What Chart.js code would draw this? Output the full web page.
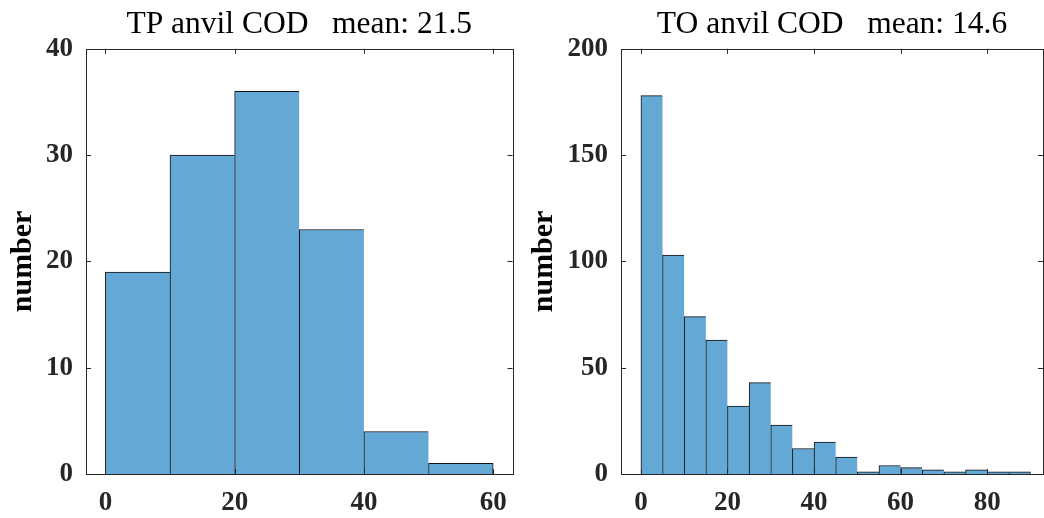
<!DOCTYPE html>
<html>
<head>
<meta charset="utf-8">
<script src="https://cdn.jsdelivr.net/npm/chart.js@4/dist/chart.umd.min.js"></script>
<style>
    html, body { margin: 0; padding: 0; background: #fff; }
    #wrap { position: relative; width: 1044px; height: 518px; overflow: hidden; }
    #tpChart { position: absolute; left: 0; top: 0; }
    #toChart { position: absolute; left: 520px; top: 0; }
</style>
</head>
<body>
<div id="wrap">
    <canvas id="tpChart" width="520" height="518"></canvas>
    <canvas id="toChart" width="524" height="518"></canvas>
</div>
<script>
// ================= Data =================
const tpBinCenters = [5, 15, 25, 35, 45, 55];
const tpCounts = [19, 30, 36, 23, 4, 1];
const tpXTicks = [0, 20, 40, 60];
const tpYTicks = [0, 10, 20, 30, 40];
const tpTitle = 'TP anvil COD   mean: 21.5';

const toBinCenters = [2.5, 7.5, 12.5, 17.5, 22.5, 27.5, 32.5, 37.5, 42.5, 47.5, 52.5, 57.5, 62.5, 67.5, 72.5, 77.5, 82.5, 87.5];
const toCounts = [178, 103, 74, 63, 32, 43, 23, 12, 15, 8, 1, 4, 3, 2, 1, 2, 1, 1];
const toXTicks = [0, 20, 40, 60, 80];
const toYTicks = [0, 50, 100, 150, 200];
const toTitle = 'TO anvil COD   mean: 14.6';

const yLabel = 'number';

// ================= Style =================
const AXIS_COLOR = '#262626';
const BAR_COLOR = 'rgb(100,168,214)';
const FONT = "'Liberation Serif', 'Times New Roman', serif";

// box + inward ticks like matlab
const boxPlugin = {
    id: 'matlabBox',
    afterDatasetsDraw(chart) {
        const { ctx, chartArea: a, scales } = chart;
        const len = 5;
        ctx.save();
        ctx.strokeStyle = AXIS_COLOR;
        ctx.lineWidth = 1;
        ctx.beginPath();
        scales.x.ticks.forEach(t => {
            const px = Math.round(scales.x.getPixelForValue(t.value)) + 0.5;
            ctx.moveTo(px, a.bottom); ctx.lineTo(px, a.bottom - len);
            ctx.moveTo(px, a.top); ctx.lineTo(px, a.top + len);
        });
        scales.y.ticks.forEach(t => {
            const py = Math.round(scales.y.getPixelForValue(t.value)) + 0.5;
            ctx.moveTo(a.left, py); ctx.lineTo(a.left + len, py);
            ctx.moveTo(a.right, py); ctx.lineTo(a.right - len, py);
        });
        ctx.stroke();
        ctx.strokeRect(Math.round(a.left) + 0.5, Math.round(a.top) + 0.5,
            Math.round(a.right - a.left), Math.round(a.bottom - a.top));
        ctx.restore();
    }
};

function makeHist(canvasId, centers, counts, xTicks, yTicks, title, xMin, xMax, cfg) {
    const last = counts.length - 1;
    return new Chart(document.getElementById(canvasId), {
        type: 'bar',
        data: {
            datasets: [{
                data: centers.map((c, i) => ({ x: c, y: counts[i] })),
                backgroundColor: BAR_COLOR,
                borderColor: '#111',
                borderWidth: ctx => ctx.dataIndex === last
                    ? { top: 1, left: 1, right: 1, bottom: 0 }
                    : { top: 1, left: 1, right: 0, bottom: 0 },
                borderSkipped: false,
                barPercentage: 1,
                categoryPercentage: 1
            }]
        },
        options: {
            responsive: false,
            animation: false,
            events: [],
            layout: { padding: { left: 0, right: cfg.padRight, top: 0, bottom: 0 } },
            plugins: {
                legend: { display: false },
                tooltip: { enabled: false },
                title: {
                    display: true,
                    text: title,
                    fullSize: false,
                    color: '#000',
                    font: { family: FONT, size: 31.5, weight: 'normal', lineHeight: 1.2 },
                    padding: { top: 6, bottom: 5 }
                }
            },
            scales: {
                x: {
                    type: 'linear',
                    min: xMin,
                    max: xMax,
                    offset: false,
                    grid: { display: false, drawTicks: false },
                    border: { display: false },
                    afterBuildTicks: s => { s.ticks = xTicks.map(v => ({ value: v })); },
                    afterFit: s => { s.height = 44; },
                    ticks: {
                        color: AXIS_COLOR,
                        padding: 13,
                        maxRotation: 0,
                        font: { family: FONT, size: 27, weight: 'bold', lineHeight: 1.2 },
                        callback: v => String(v)
                    }
                },
                y: {
                    min: yTicks[0],
                    max: yTicks[yTicks.length - 1],
                    grid: { display: false, drawTicks: false },
                    border: { display: false },
                    afterBuildTicks: s => { s.ticks = yTicks.map(v => ({ value: v })); },
                    afterFit: s => { s.width = cfg.yWidth; },
                    ticks: {
                        color: AXIS_COLOR,
                        padding: 13,
                        font: { family: FONT, size: 27, weight: 'bold', lineHeight: 1.2 },
                        callback: v => String(v)
                    },
                    title: {
                        display: true,
                        text: yLabel,
                        color: '#000',
                        padding: { top: cfg.titlePad, bottom: 0 },
                        font: { family: FONT, size: 30, weight: 'bold', lineHeight: 1.2 }
                    }
                }
            }
        },
        plugins: [boxPlugin]
    });
}

makeHist('tpChart', tpBinCenters, tpCounts, tpXTicks, tpYTicks, tpTitle, -3, 63,
    { padRight: 5, yWidth: 86, titlePad: 5 });
makeHist('toChart', toBinCenters, toCounts, toXTicks, toYTicks, toTitle, -4.6, 92.9,
    { padRight: 1, yWidth: 101, titlePad: 6 });
</script>
</body>
</html>
